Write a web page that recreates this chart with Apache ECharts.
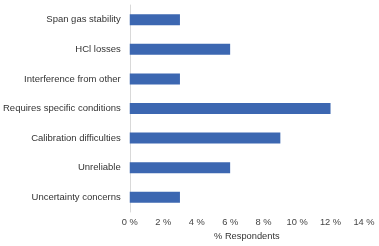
<!DOCTYPE html>
<html><head><meta charset="utf-8">
<script src="https://cdn.jsdelivr.net/npm/echarts@6/dist/echarts.min.js"></script>
<style>html,body{margin:0;padding:0;background:#fff}#c{width:379px;height:246px}</style>
</head><body><div id="c"></div>
<script>
const categories = ["Uncertainty concerns","Unreliable","Calibration difficulties","Requires specific conditions","Interference from other","HCl losses","Span gas stability"];
const values = [3,6,9,12,3,6,3];
const xTicks = [0,2,4,6,8,10,12,14];
const chart = echarts.init(document.getElementById('c'));
chart.setOption({
  animation:false,
  grid:{left:127,right:15,top:5,bottom:34,containLabel:false},
  xAxis:{type:'value',min:0,max:14,interval:2,
    name:'% Respondents',nameLocation:'middle',nameGap:18,
    nameTextStyle:{color:'#333',fontSize:9.3,fontFamily:'Liberation Sans, Arial'},
    axisLabel:{formatter:v=>v+' %',color:'#444',fontSize:9.3,margin:6,fontFamily:'Liberation Sans, Arial'},
    splitLine:{show:false},axisLine:{show:false},axisTick:{show:false}},
  yAxis:{type:'category',data:categories,
    axisLabel:{color:'#333',fontSize:9.5,margin:9,fontFamily:'Liberation Sans, Arial'},
    axisLine:{show:true,lineStyle:{color:'#d9d9d9'}},axisTick:{show:false}},
  series:[{type:'bar',data:values,barWidth:11,itemStyle:{color:'#3c67b1'}}]
});
</script></body></html>
